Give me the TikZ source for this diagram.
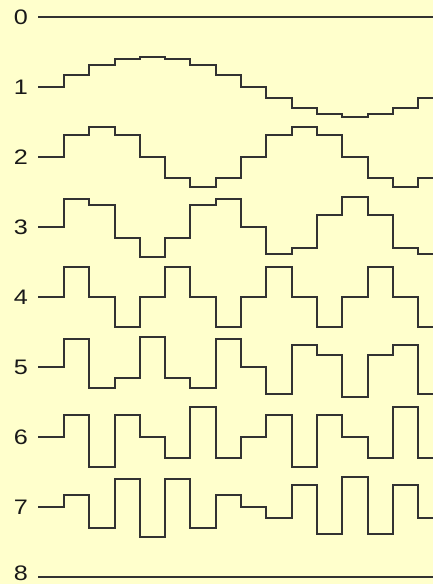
\documentclass[tikz,border=0pt]{standalone}
\usepackage{fontspec}
\setmainfont{Liberation Sans}
\definecolor{bgyellow}{RGB}{255,255,204}
\definecolor{wave}{RGB}{50,50,50}
\begin{document}
\begin{tikzpicture}[x=1pt,y=-1pt,
  wavestyle/.style={draw=wave,line width=2pt},
  rowlabel/.style={font=\fontsize{21}{21}\selectfont,text=black!90,inner sep=0pt,anchor=center}]
\fill[bgyellow] (0,0) rectangle (433,584);
\useasboundingbox (0,0) rectangle (433,584);
\begin{scope}
\clip (0,0) rectangle (433,584);
\foreach \n in {0,...,8}{
  \pgfmathsetmacro{\b}{16.5+70*\n}
  \pgfmathsetmacro{\ly}{\n==8 ? \b-3 : \b+1}
  \node[rowlabel] (lab\n) at (21,\ly) {\scalebox{1.2}[1]{\n}};
  \draw[wavestyle] (38.4,\b)
    \foreach \k in {0,...,15}{
      -- ({38.6+25.3*\k},{\b-30*sin(22.5*\n*\k)})
      -- ({38.6+25.3*(\k+1)},{\b-30*sin(22.5*\n*\k)})
    };
}
\end{scope}
\end{tikzpicture}
\end{document}
